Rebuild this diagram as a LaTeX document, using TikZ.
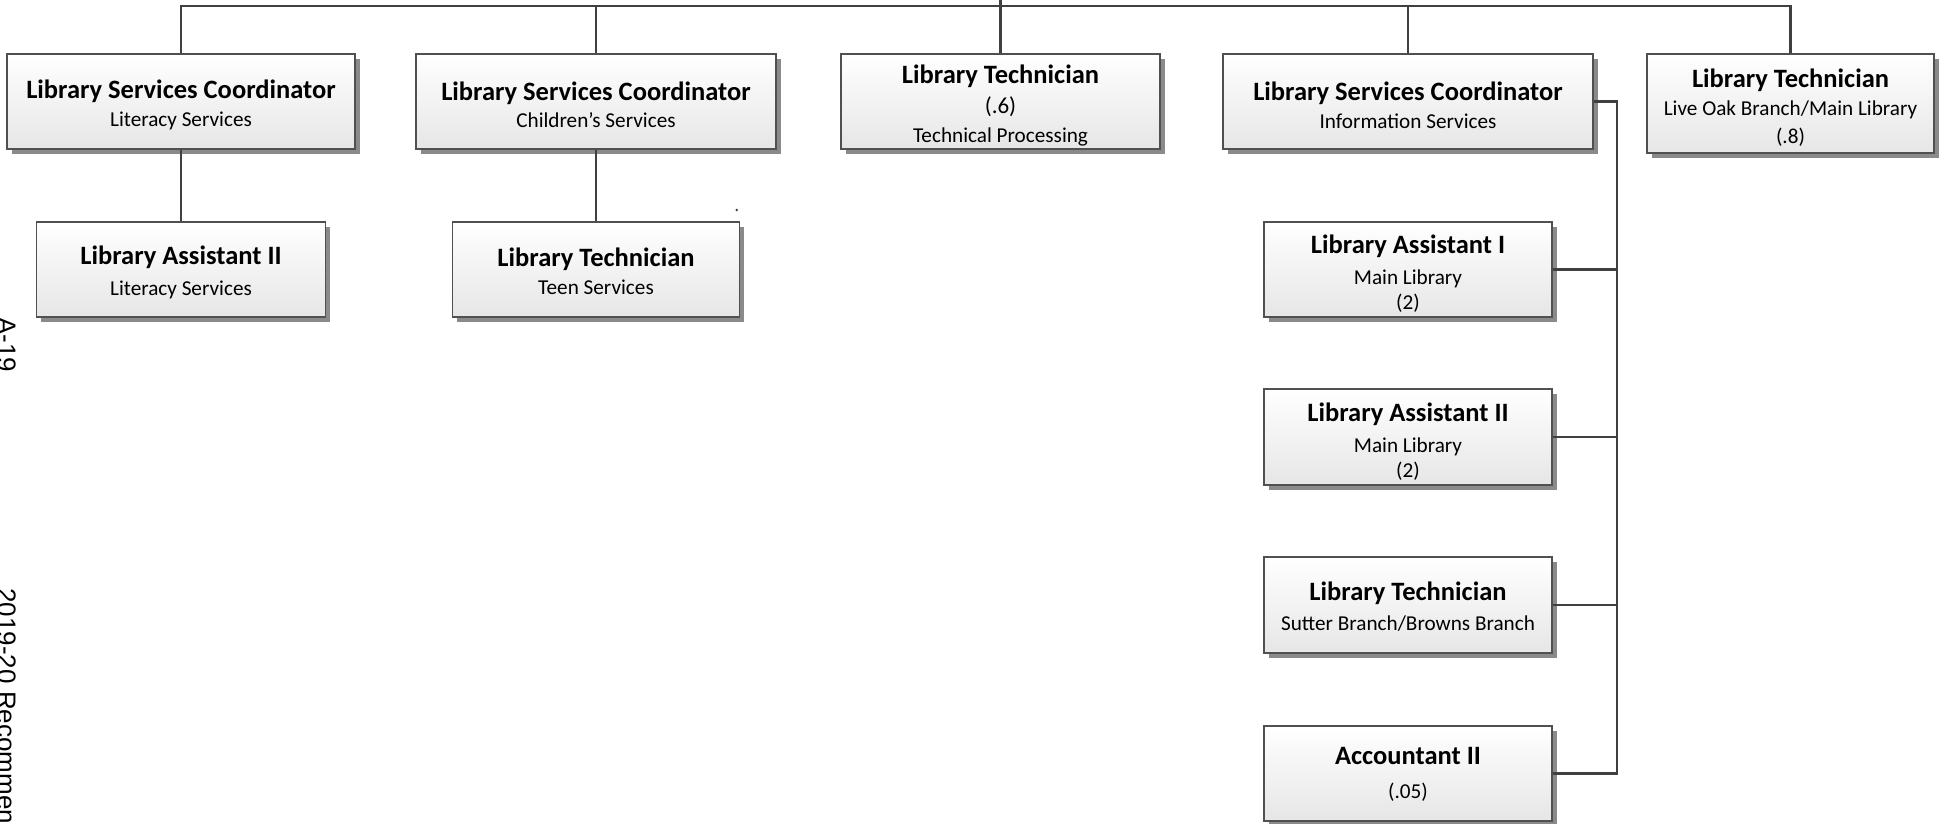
\documentclass[tikz,border=0pt]{standalone}
\usepackage{fontspec}
\setmainfont{Carlito}
\newfontfamily\sidefont{Liberation Sans}
\usetikzlibrary{shadows}
\definecolor{linec}{HTML}{404040}
\definecolor{borderc}{HTML}{505050}
\definecolor{shadowc}{HTML}{8A8A8A}
\definecolor{boxbot}{HTML}{E6E6E6}
\newcommand\ttl{\fontsize{13.25pt}{16pt}\selectfont\bfseries}
\newcommand\subt{\fontsize{10.6pt}{13.5pt}\selectfont}
\newcommand\fracfont{\fontsize{11.5pt}{13.5pt}\selectfont}
\tikzset{
  orgbox/.style={draw=borderc, line width=0.7pt, top color=white, bottom color=boxbot,
    inner sep=0pt,
    drop shadow={shadow xshift=2.3pt, shadow yshift=-2.3pt, fill=shadowc, opacity=1}},
  boxtext/.style={inner sep=0pt, align=center, font=\subt},
  conn/.style={draw=linec, line width=1.4pt, line join=miter},
  sidetext/.style={rotate=-90, anchor=base west, inner sep=0pt,
    font=\sidefont\fontsize{13pt}{15pt}\selectfont}
}
\begin{document}
\begin{tikzpicture}[x=0.5pt,y=-0.5pt]
\useasboundingbox (0,0) rectangle (1949,824);
\clip (0,0) rectangle (1949,824);

% boxes
\node[orgbox, minimum width=174pt, minimum height=47.5pt] (b1) at (181,101.5) {};
\node[orgbox, minimum width=180pt, minimum height=47.5pt] (b2) at (596,101.5) {};
\node[orgbox, minimum width=159.5pt, minimum height=47.5pt] (b3) at (1000.5,101.5) {};
\node[orgbox, minimum width=185pt, minimum height=47.5pt] (b4) at (1408,101.5) {};
\node[orgbox, minimum width=143.5pt, minimum height=49.5pt] (b5) at (1790.5,103.5) {};
\node[orgbox, minimum width=144.5pt, minimum height=47.5pt] (b6) at (181,269.5) {};
\node[orgbox, minimum width=143.5pt, minimum height=47.5pt] (b7) at (596,269.5) {};
\node[orgbox, minimum width=144pt, minimum height=47.5pt] (b8) at (1408,269.5) {};
\node[orgbox, minimum width=144pt, minimum height=48pt] (b9) at (1408,437) {};
\node[orgbox, minimum width=144pt, minimum height=48pt] (b10) at (1408,605) {};
\node[orgbox, minimum width=144pt, minimum height=47.5pt] (b11) at (1408,773.5) {};

% box texts
\node[boxtext] (t1) at ([yshift=-1.8pt]b1.center)
  {{\ttl Library Services Coordinator}\\[0.6pt]Literacy Services};
\node[boxtext] (t2) at ([yshift=-1.6pt]b2.center)
  {{\ttl Library Services Coordinator}\\[0.4pt]Children’s Services};
\node[boxtext] (t3) at ([yshift=-2.2pt]b3.center)
  {{\ttl Library Technician}\\[1.2pt]{\fracfont (.6)}\\[1.2pt]Technical Processing};
\node[boxtext] (t4) at ([yshift=-2pt]b4.center)
  {{\ttl Library Services Coordinator}\\[0.6pt]Information Services};
\node[boxtext] (t5) at ([yshift=-2.2pt]b5.center)
  {{\ttl Library Technician}\\[0.3pt]Live Oak Branch/Main Library\\[0.6pt](.8)};
\node[boxtext] (t6) at ([yshift=-1.5pt]b6.center)
  {{\ttl Library Assistant II}\\[2.4pt]Literacy Services};
\node[boxtext] (t7) at ([yshift=-0.9pt]b7.center)
  {{\ttl Library Technician}\\[0.4pt]Teen Services};
\node[boxtext] (t8) at ([yshift=-2.2pt]b8.center)
  {{\ttl Library Assistant I}\\[2pt]Main Library\\[-0.8pt](2)};
\node[boxtext] (t9) at ([yshift=-2.2pt]b9.center)
  {{\ttl Library Assistant II}\\[2pt]Main Library\\[-0.8pt](2)};
\node[boxtext] (t10) at ([yshift=-0.9pt]b10.center)
  {{\ttl Library Technician}\\[1.5pt]Sutter Branch/Browns Branch};
\node[boxtext] (t11) at ([yshift=-0.3pt]b11.center)
  {{\ttl Accountant II}\\[3.6pt](.05)};

% junction coordinates
\coordinate (top) at (1000.5,0);
\coordinate (bar) at (1000.5,6);
\coordinate (bus) at (1617,101.5);

% connectors
\draw[conn] (top) -- (b3.north);
\draw[conn] (b1.north) |- (bar) -| (b5.north);
\draw[conn] (b2.north) |- (bar);
\draw[conn] (b4.north) |- (bar);
\draw[conn] (b1.south) -- (b6.north);
\draw[conn] (b2.south) -- (b7.north);
\draw[conn] (b4.east) -- (bus) |- (b11.east);
\draw[conn] (b8.east) -- (b8.east -| bus);
\draw[conn] (b9.east) -- (b9.east -| bus);
\draw[conn] (b10.east) -- (b10.east -| bus);

% stray dot
\fill[linec] (736.7,210) circle (1.3);

% rotated page footer text
\node[sidetext] (pg) at (-2.5,317) {A-19};
\node[sidetext] (ft) at (-2.5,588) {2019-20 Recommended Budget};
\end{tikzpicture}
\end{document}
